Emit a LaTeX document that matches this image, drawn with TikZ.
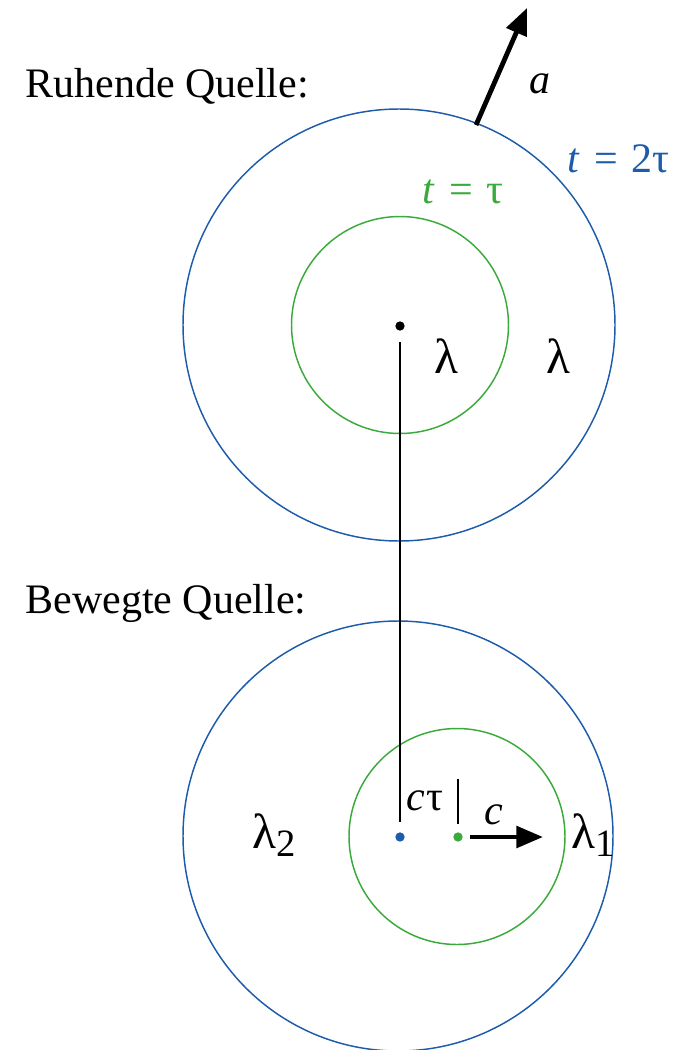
\documentclass[tikz,border=0pt]{standalone}
\usepackage{fontspec}
\setmainfont{Liberation Serif}
\usetikzlibrary{arrows.meta}
\definecolor{wavblue}{RGB}{28,92,170}
\definecolor{wavgreen}{RGB}{58,170,58}
\tikzset{every picture/.style={line width=0.75pt}}
\tikzset{
front2/.style={draw=wavblue, line width=1.1pt},
front1/.style={draw=wavgreen, line width=1.1pt},
srcdot/.style={circle, fill=#1, inner sep=0pt, minimum size=7pt},
velarrow/.style={line width=3.6pt, -{Triangle[length=20pt,width=16pt]}},
txt/.style={inner sep=0.75pt, font=\fontsize{31.5}{37}\selectfont},
lam/.style={inner sep=0.75pt, font=\fontsize{37}{42}\selectfont}
}

\begin{document}
\begin{tikzpicture}[x=0.75pt,y=0.75pt,yscale=-1,xscale=1]
\useasboundingbox (0,0) rectangle (679,1050);

%Shape: Circle (resting source, t = 2tau)
\draw [front2] (399,325) circle (216);
%Shape: Circle (resting source, t = tau)
\draw [front1] (400,325) circle (108.5);
%Shape: Circle (moving source, t = 2tau)
\draw [front2] (398,836) circle (215);
%Shape: Circle (moving source, t = tau)
\draw [front1] (457,836.5) circle (108);

% Dots
\node [srcdot=black] (src1) at (400,326) {};
\node [srcdot=wavblue] (src2) at (400,837) {};
\node [srcdot=wavgreen] (src3) at (458,837) {};

%Straight Lines
\coordinate (vtop) at (400,342);
\coordinate (vbot) at (400,822);
\draw [line width=1pt] (vtop) -- (vbot);
\coordinate (ttop) at (458,779);
\coordinate (tbot) at (458,824);
\draw [line width=1pt] (ttop) -- (tbot);

%Arrows
\coordinate (atail) at (476,125);
\coordinate (ahead) at (527,8);
\draw [velarrow] (atail) -- (ahead);
\coordinate (ctail) at (470,837);
\coordinate (chead) at (543,837);
\draw [velarrow] (ctail) -- (chead);

% Text Node
\draw (24,97) node [anchor=base west][txt] (ruhend) {Ruhende Quelle:};
% Text Node
\draw (24,613) node [anchor=base west][txt] (beweg) {Bewegte Quelle:};
% Text Node
\draw (540,84) node [txt] (lbla) {\textit{a}};
% Text Node
\draw (566,172) node [anchor=base west][txt, text=wavblue] (lbl2t) {\textit{t}\,\,=\,\,2τ};
% Text Node
\draw (421,203) node [anchor=base west][txt, text=wavgreen] (lbl1t) {\textit{t}\,\,=\,\,τ};
% Text Node
\draw (446,373) node [anchor=base][lam] (lam1) {λ};
% Text Node
\draw (558,373) node [anchor=base][lam] (lam2) {λ};
% Text Node
\draw (405,810) node [anchor=base west][txt] (lblct) {\textit{c}\kern1pt τ};
% Text Node
\draw (494,824) node [anchor=base][txt] (lblc) {\textit{c}};
% Text Node
\draw (251,848) node [anchor=base west][lam] (lamtwo) {λ\raisebox{-6pt}{\fontsize{29}{33}\selectfont 2}};
% Text Node
\draw (570,848) node [anchor=base west][lam] (lamone) {λ\raisebox{-6pt}{\fontsize{29}{33}\selectfont 1}};

\end{tikzpicture}
\end{document}
